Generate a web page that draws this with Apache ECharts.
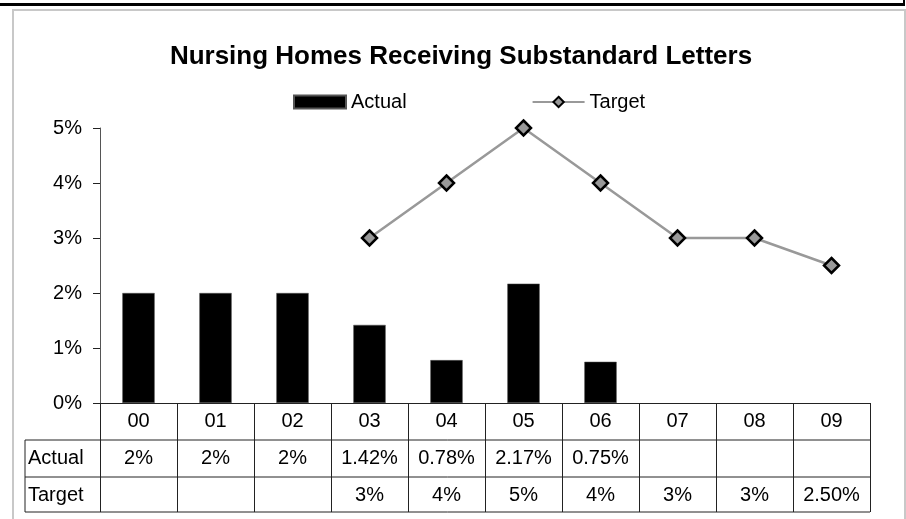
<!DOCTYPE html>
<html>
<head>
<meta charset="utf-8">
<script src="https://cdn.jsdelivr.net/npm/echarts@6/dist/echarts.min.js"></script>
<style>
  html, body { margin: 0; padding: 0; background: #fff; }
  #chart { width: 906px; height: 519px; }
</style>
</head>
<body>
<div id="chart"></div>
<script>
// data
const years = ['00', '01', '02', '03', '04', '05', '06', '07', '08', '09']
const actual = [2, 2, 2, 1.42, 0.78, 2.17, 0.75, null, null, null]
const target = [null, null, null, 3, 4, 5, 4, 3, 3, 2.5]
const rowNames = ['Actual', 'Target']
const yTicks = [0, 1, 2, 3, 4, 5]

const fmt = v => (v == null ? '' : (Number.isInteger(v) ? v + '%' : v.toFixed(2) + '%'))

const FONT = 'Liberation Sans, Arial, sans-serif'
const FS = 20
const W = 906, H = 519
const gl = 100, gr = 870, gt = 128, gb = 403
const rowH = 37
const tableLeft = 25
const tableBottom = 512

const chart = echarts.init(document.getElementById('chart'))

// table rows (values shown under the axis)
const tableAxis = (vals, i) => ({
  type: 'category',
  data: years,
  position: 'bottom',
  offset: rowH * (i + 1),
  axisLine: { show: false },
  axisTick: { show: false },
  axisLabel: {
    interval: 0,
    margin: 8,
    fontSize: FS,
    fontFamily: FONT,
    color: '#000',
    formatter: (v, idx) => fmt(vals[idx])
  }
})

const lineStyle = { type: 'line', style: { stroke: '#222', lineWidth: 1 } }

const option = {
  animation: false,
  title: {
    text: 'Nursing Homes Receiving Substandard Letters',
    left: 461,
    textAlign: 'center',
    top: 44,
    padding: 0,
    textStyle: { fontSize: 26, fontWeight: 'bold', fontFamily: FONT, color: '#000' }
  },
  legend: {
    left: 288,
    top: 87,
    itemGap: 125,
    itemWidth: 52,
    itemHeight: 13,
    textStyle: { fontSize: FS, fontFamily: FONT, color: '#000' },
    data: [
      { name: 'Actual', icon: 'rect' },
      { name: 'Target' }
    ]
  },
  grid: { left: gl, right: W - gr, top: gt, bottom: H - gb, containLabel: false },
  xAxis: [
    {
      type: 'category',
      data: years,
      position: 'bottom',
      axisLine: { lineStyle: { color: '#222', width: 1 } },
      axisTick: { show: true, length: tableBottom - gb, lineStyle: { color: '#222' } },
      axisLabel: { interval: 0, margin: 8, fontSize: FS, fontFamily: FONT, color: '#000' }
    },
    tableAxis(actual, 0),
    tableAxis(target, 1)
  ],
  yAxis: {
    type: 'value',
    min: yTicks[0],
    max: yTicks[yTicks.length - 1],
    interval: 1,
    axisLine: { show: true, lineStyle: { color: '#555' } },
    axisTick: { show: true, length: 7, lineStyle: { color: '#222' } },
    splitLine: { show: false },
    axisLabel: { formatter: '{value}%', margin: 18, fontSize: FS, fontFamily: FONT, color: '#000' }
  },
  series: [
    {
      name: 'Actual',
      type: 'bar',
      data: actual,
      barWidth: '42%',
      itemStyle: { color: '#000', borderColor: '#555', borderWidth: 0.5 }
    },
    {
      name: 'Target',
      type: 'line',
      data: target,
      symbol: 'diamond',
      symbolSize: 15,
      showAllSymbol: true,
      lineStyle: { color: '#999', width: 2.5 },
      itemStyle: { color: '#999', borderColor: '#000', borderWidth: 2.5 }
    }
  ],
  graphic: [
    // outer frame
    { type: 'line', shape: { x1: 0, y1: 4.5, x2: 905, y2: 4.5 }, style: { stroke: '#000', lineWidth: 3 } },
    { type: 'line', shape: { x1: 904, y1: 0, x2: 904, y2: 5 }, style: { stroke: '#000', lineWidth: 2 } },
    { type: 'rect', shape: { x: 13, y: 10, width: 892, height: 540 }, style: { fill: 'none', stroke: '#c8c8c8', lineWidth: 2 } },
    // table borders
    { ...lineStyle, shape: { x1: tableLeft, y1: gb + rowH, x2: gr, y2: gb + rowH } },
    { ...lineStyle, shape: { x1: tableLeft, y1: gb + rowH * 2, x2: gr, y2: gb + rowH * 2 } },
    { ...lineStyle, shape: { x1: tableLeft, y1: tableBottom, x2: gr, y2: tableBottom } },
    { ...lineStyle, shape: { x1: tableLeft, y1: gb + rowH, x2: tableLeft, y2: tableBottom } },
    ...rowNames.map((n, i) => ({
      type: 'text',
      left: tableLeft + 3,
      top: gb + rowH * (i + 1) + 8,
      style: { text: n, fontSize: FS, fontFamily: FONT, fill: '#000' }
    }))
  ]
}

chart.setOption(option)
</script>
</body>
</html>
